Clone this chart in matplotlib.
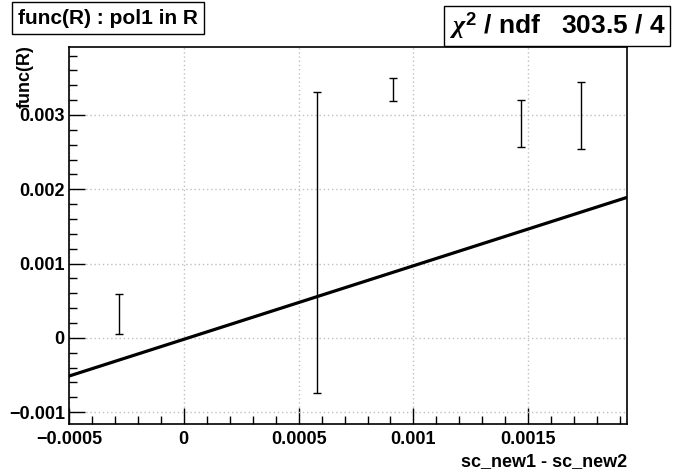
import numpy as np
import matplotlib
matplotlib.use('Agg')
import matplotlib.pyplot as plt
from matplotlib.ticker import MultipleLocator, FuncFormatter

# data
x_pts = [-0.000283, 0.000578, 0.000913, 0.00147, 0.00173]
y_pts = [0.000323, 0.001285, 0.003345, 0.002885, 0.002995]
y_err = [0.000269, 0.002025, 0.000155, 0.000316, 0.00045]

# pol1 fit parameters
p0 = -0.00002
p1 = 0.99

plt.rcParams['font.family'] = ['Liberation Sans', 'DejaVu Sans']
plt.rcParams['font.weight'] = 'bold'
plt.rcParams['mathtext.fontset'] = 'custom'
plt.rcParams['mathtext.rm'] = 'Liberation Sans:bold'
plt.rcParams['mathtext.it'] = 'Liberation Serif:italic'

fig = plt.figure(figsize=(6.96, 4.72), dpi=100)
ax = fig.add_axes([0.0991, 0.1017, 0.8018, 0.7987])

xmin, xmax = -0.0005, 0.00193
ax.set_xlim(xmin, xmax)
ax.set_ylim(-0.00116, 0.003915)

ax.errorbar(x_pts, y_pts, yerr=y_err, fmt='none', ecolor='black',
            elinewidth=1, capsize=3, capthick=1)

xf = np.linspace(xmin, xmax, 300)
ax.plot(xf, p0 + p1 * xf, color='black', lw=2.3)

ax.xaxis.set_major_locator(MultipleLocator(0.0005))
ax.xaxis.set_minor_locator(MultipleLocator(0.0001))
ax.yaxis.set_major_locator(MultipleLocator(0.001))
ax.yaxis.set_minor_locator(MultipleLocator(0.0002))

def fmt(v, pos):
    if abs(v) < 1e-12:
        return '0'
    s = ('%.4f' % v).rstrip('0').rstrip('.')
    return s.replace('-', '\u2212')

ax.xaxis.set_major_formatter(FuncFormatter(fmt))
ax.yaxis.set_major_formatter(FuncFormatter(fmt))
ax.tick_params(which='major', direction='in', length=11.5, width=1,
               labelsize=13, top=False, right=False, pad=5)
ax.tick_params(axis='y', which='major', pad=3)
ax.tick_params(which='minor', direction='in', length=5.5, width=1,
               top=False, right=False)
ax.grid(True, which='major', color='#c0c0c0', linestyle=(0, (1, 2)), lw=1)
for s in ax.spines.values():
    s.set_linewidth(1.2)

fig.text(627 / 696, 1 - 462 / 472, 'sc_new1 - sc_new2', ha='right', va='center',
         fontsize=13, fontweight='bold')
fig.text(25 / 696, 1 - 45 / 472, 'func(R)', ha='center', va='top', rotation=90,
         fontsize=13, fontweight='bold')

fig.text(108 / 696, 1 - 18 / 472, 'func(R) : pol1 in R', ha='center', va='center',
         fontsize=15, fontweight='bold',
         bbox=dict(boxstyle='square,pad=0.3', fc='white', ec='black', lw=1))
fig.text(557 / 696, 1 - 26 / 472, r'$\chi^{2}$ / ndf   303.5 / 4', ha='center', va='center',
         fontsize=19, fontweight='bold',
         bbox=dict(boxstyle='square,pad=0.18', fc='white', ec='black', lw=1))

fig.savefig('out.png', dpi=100)
